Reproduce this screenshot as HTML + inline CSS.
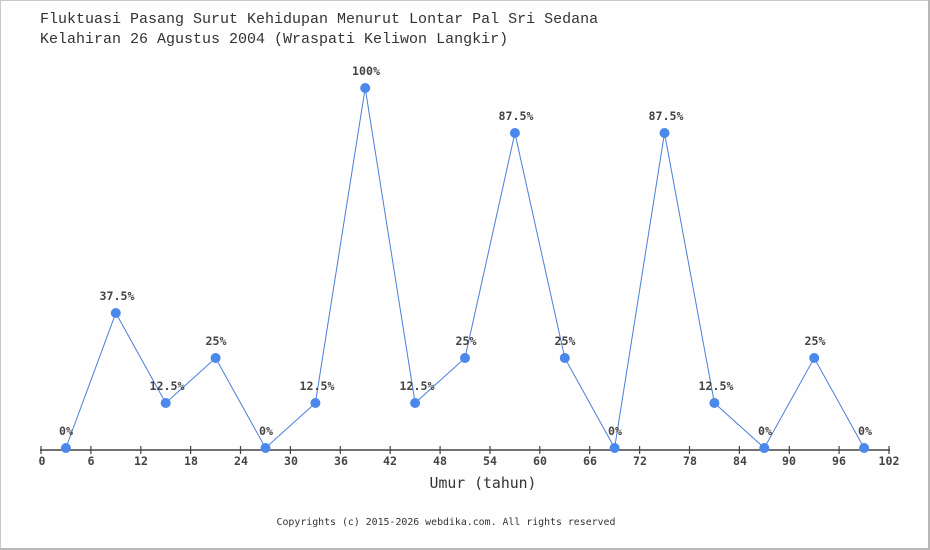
<!DOCTYPE html>
<html><head><meta charset="utf-8"><style>
html,body{margin:0;padding:0;background:#fff;}
svg{display:block;}
</style></head><body>
<svg width="930" height="550" viewBox="0 0 930 550" xmlns="http://www.w3.org/2000/svg">
<rect x="0" y="0" width="930" height="550" fill="#fefefe"/>
<rect x="0.5" y="0.5" width="928" height="548" fill="none" stroke="#c8c8c8" stroke-width="1"/>
<line x1="929" y1="0" x2="929" y2="550" stroke="#b8b8b8" stroke-width="2"/>
<line x1="0" y1="549" x2="930" y2="549" stroke="#b8b8b8" stroke-width="2"/>
<g font-family="'Liberation Mono','DejaVu Sans Mono',monospace" fill="#333">
<text x="40" y="23" font-size="15">Fluktuasi Pasang Surut Kehidupan Menurut Lontar Pal Sri Sedana</text>
<text x="40" y="43" font-size="15">Kelahiran 26 Agustus 2004 (Wraspati Keliwon Langkir)</text>
</g>
<line x1="40" y1="450" x2="890" y2="450" stroke="#444" stroke-width="1.5"/>
<g stroke="#444" stroke-width="1.2">
<line x1="41" y1="446" x2="41" y2="454"/><line x1="90.9" y1="446" x2="90.9" y2="454"/><line x1="140.8" y1="446" x2="140.8" y2="454"/><line x1="190.6" y1="446" x2="190.6" y2="454"/><line x1="240.5" y1="446" x2="240.5" y2="454"/><line x1="290.4" y1="446" x2="290.4" y2="454"/><line x1="340.3" y1="446" x2="340.3" y2="454"/><line x1="390.2" y1="446" x2="390.2" y2="454"/><line x1="440.1" y1="446" x2="440.1" y2="454"/><line x1="490" y1="446" x2="490" y2="454"/><line x1="539.8" y1="446" x2="539.8" y2="454"/><line x1="589.7" y1="446" x2="589.7" y2="454"/><line x1="639.6" y1="446" x2="639.6" y2="454"/><line x1="689.5" y1="446" x2="689.5" y2="454"/><line x1="739.4" y1="446" x2="739.4" y2="454"/><line x1="789.3" y1="446" x2="789.3" y2="454"/><line x1="839.1" y1="446" x2="839.1" y2="454"/><line x1="889" y1="446" x2="889" y2="454"/>
</g>
<g font-family="'DejaVu Sans Mono','Liberation Mono',monospace" font-weight="bold" font-size="11.6" fill="#444" text-anchor="middle">
<text x="42" y="465">0</text><text x="91" y="465">6</text><text x="141" y="465">12</text><text x="191" y="465">18</text><text x="241" y="465">24</text><text x="291" y="465">30</text><text x="341" y="465">36</text><text x="390" y="465">42</text><text x="440" y="465">48</text><text x="490" y="465">54</text><text x="540" y="465">60</text><text x="590" y="465">66</text><text x="640" y="465">72</text><text x="690" y="465">78</text><text x="740" y="465">84</text><text x="789" y="465">90</text><text x="839" y="465">96</text><text x="889" y="465">102</text>
</g>
<text x="483" y="488" font-family="'DejaVu Sans Mono','Liberation Mono',monospace" font-size="14.8" fill="#333" text-anchor="middle">Umur (tahun)</text>
<text x="446" y="525" font-family="'DejaVu Sans Mono','Liberation Mono',monospace" font-size="9.9" fill="#333" text-anchor="middle">Copyrights (c) 2015-2026 webdika.com. All rights reserved</text>
<polyline fill="none" stroke="#4a7fd8" stroke-width="1" points="65.9,448 115.8,313 165.7,403 215.6,358 265.5,448 315.4,403 365.2,88 415.1,403 465,358 514.9,133 564.8,358 614.6,448 664.5,133 714.4,403 764.3,448 814.2,358 864.1,448"/>
<g fill="#4a88ec">
<circle cx="65.9" cy="448" r="5"/><circle cx="115.8" cy="313" r="5"/><circle cx="165.7" cy="403" r="5"/><circle cx="215.6" cy="358" r="5"/><circle cx="265.5" cy="448" r="5"/><circle cx="315.4" cy="403" r="5"/><circle cx="365.2" cy="88" r="5"/><circle cx="415.1" cy="403" r="5"/><circle cx="465" cy="358" r="5"/><circle cx="514.9" cy="133" r="5"/><circle cx="564.8" cy="358" r="5"/><circle cx="614.6" cy="448" r="5"/><circle cx="664.5" cy="133" r="5"/><circle cx="714.4" cy="403" r="5"/><circle cx="764.3" cy="448" r="5"/><circle cx="814.2" cy="358" r="5"/><circle cx="864.1" cy="448" r="5"/>
</g>
<g font-family="'DejaVu Sans Mono','Liberation Mono',monospace" font-weight="bold" font-size="11.6" fill="#444" text-anchor="middle">
<text x="66" y="435">0%</text><text x="117" y="300">37.5%</text><text x="167" y="390">12.5%</text><text x="216" y="345">25%</text><text x="266" y="435">0%</text><text x="317" y="390">12.5%</text><text x="366" y="75">100%</text><text x="417" y="390">12.5%</text><text x="466" y="345">25%</text><text x="516" y="120">87.5%</text><text x="565" y="345">25%</text><text x="615" y="435">0%</text><text x="666" y="120">87.5%</text><text x="716" y="390">12.5%</text><text x="765" y="435">0%</text><text x="815" y="345">25%</text><text x="865" y="435">0%</text>
</g>
</svg>
</body></html>
